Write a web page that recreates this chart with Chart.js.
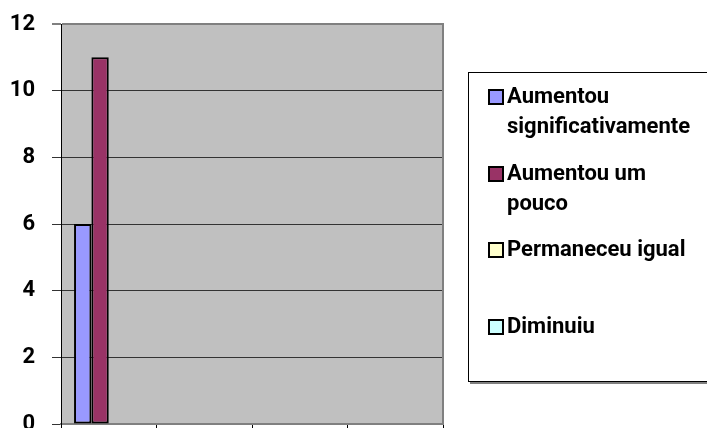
<!DOCTYPE html>
<html>
<head>
<meta charset="utf-8">
<script src="https://cdn.jsdelivr.net/npm/chart.js@4/dist/chart.umd.min.js"></script>
<style>
  html, body { margin: 0; padding: 0; background: #fff; }
  #wrap { width: 707px; height: 428px; position: relative; }
</style>
</head>
<body>
<div id="wrap"><canvas id="c" width="707" height="428"></canvas></div>
<script>
// ---- data ----
const categories = ['', '', '', ''];
const seriesNames = [
  ['Aumentou', 'significativamente'],
  ['Aumentou um', 'pouco'],
  ['Permaneceu igual'],
  ['Diminuiu']
];
const aumentouSignificativamente = [6, null, null, null];
const aumentouUmPouco = [11, null, null, null];
const permaneceuIgual = [0, null, null, null];
const diminuiu = [0, null, null, null];
const yTicks = [0, 2, 4, 6, 8, 10, 12];

const seriesColors = ['#9999FF', '#993366', '#FFFFCC', '#CCFFFF'];
const seriesValues = [aumentouSignificativamente, aumentouUmPouco, permaneceuIgual, diminuiu];

const FONT = 'Roboto, "Liberation Sans", sans-serif';

const plotBg = {
  id: 'plotBg',
  beforeDraw(chart) {
    const { ctx, chartArea: a } = chart;
    ctx.save();
    ctx.fillStyle = '#C0C0C0';
    ctx.fillRect(a.left, a.top, a.right - a.left, a.bottom - a.top);
    ctx.restore();
  },
  afterDatasetsDraw(chart) {
    const { ctx, chartArea: a } = chart;
    ctx.save();
    ctx.strokeStyle = '#808080';
    ctx.lineWidth = 2;
    ctx.beginPath();
    ctx.moveTo(a.right, a.top - 1);
    ctx.lineTo(a.right, a.bottom + 1);
    ctx.stroke();
    ctx.restore();
  }
};

const boxLegend = {
  id: 'boxLegend',
  afterDraw(chart) {
    const ctx = chart.ctx;
    ctx.save();
    const bx = 468, by = 72, bw = 260, bh = 310;
    ctx.fillStyle = '#fff';
    ctx.fillRect(bx, by, bw, bh);
    ctx.fillStyle = '#808080';
    ctx.fillRect(bx + 2, by + bh, bw, 2);
    ctx.strokeStyle = '#000';
    ctx.lineWidth = 1;
    ctx.strokeRect(bx + 0.5, by + 0.5, bw, bh - 1);
    ctx.font = 'bold 22px ' + FONT;
    ctx.textBaseline = 'middle';
    ctx.textAlign = 'left';
    const rowY = [97, 174, 250, 327];
    chart.data.datasets.forEach((ds, i) => {
      const y = rowY[i];
      ctx.fillStyle = ds.backgroundColor;
      ctx.fillRect(489, y - 7, 14, 14);
      ctx.strokeStyle = '#000';
      ctx.lineWidth = 2;
      ctx.strokeRect(489, y - 7, 14, 14);
      ctx.fillStyle = '#000';
      ds.label.forEach((line, k) => ctx.fillText(line, 507, y + k * 30));
    });
    ctx.restore();
  }
};

new Chart(document.getElementById('c'), {
  type: 'bar',
  data: {
    labels: categories,
    datasets: seriesValues.map((vals, i) => ({
      label: seriesNames[i],
      data: vals,
      backgroundColor: seriesColors[i],
      borderColor: '#000',
      borderWidth: 2,
      borderSkipped: false,
      categoryPercentage: 0.727,
      barPercentage: 1
    }))
  },
  options: {
    responsive: false,
    animation: false,
    layout: { padding: { left: 0, top: 24, right: 264, bottom: 0 } },
    plugins: { legend: { display: false }, tooltip: { enabled: false } },
    scales: {
      x: {
        grid: { offset: true, drawOnChartArea: false, tickLength: 4, color: '#000', lineWidth: 1 },
        border: { display: true, color: '#808080', width: 2 },
        ticks: { display: false },
        afterFit(s) { s.height = 4; }
      },
      y: {
        min: 0, max: 12,
        afterBuildTicks(s) { s.ticks = yTicks.map(v => ({ value: v })); },
        grid: {
          color: c => (c.tick && c.tick.value === 12) ? '#808080' : '#333',
          lineWidth: c => (c.tick && c.tick.value === 12) ? 2 : 1,
          tickLength: 9
        },
        border: { display: true, color: '#000', width: 1 },
        ticks: { color: '#000', padding: 17, font: { family: FONT, size: 22, weight: 'bold' } },
        afterFit(s) { s.width = 61; s.paddingTop = 0; s.paddingBottom = 0; }
      }
    }
  },
  plugins: [plotBg, boxLegend]
});
</script>
</body>
</html>
